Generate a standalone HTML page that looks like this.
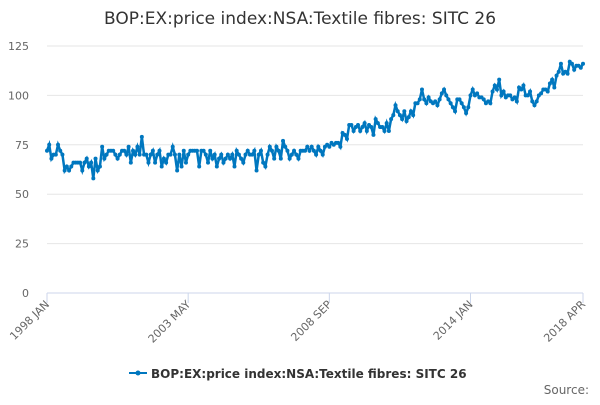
<!DOCTYPE html>
<html><head><meta charset="utf-8"><style>
body{margin:0;background:#fff;font-family:"Liberation Sans","DejaVu Sans",sans-serif;}
svg text{font-family:"DejaVu Sans","Liberation Sans",sans-serif;}
</style></head><body>
<svg id="c" width="600" height="400">
<text x="300" y="24" text-anchor="middle" font-size="17" fill="#333">BOP:EX:price index:NSA:Textile fibres: SITC 26</text>
<g id="grid"></g><g id="xax"></g><g id="ser"></g>
<g>
<line x1="129" y1="373" x2="147" y2="373" stroke="#0077bf" stroke-width="2"/>
<circle cx="138" cy="373" r="2.5" fill="#0077bf"/>
<text x="151" y="378" font-size="12" font-weight="bold" fill="#333">BOP:EX:price index:NSA:Textile fibres: SITC 26</text>
</g>
<text x="589" y="394" text-anchor="end" font-size="12" fill="#666">Source:</text>
</svg>
<script>
const yTicks=[0,25,50,75,100,125];
const xTickIdx=[0,64,128,192,243];
const xTickLabels=["1998 JAN","2003 MAY","2008 SEP","2014 JAN","2018 APR"];
const values=[72,75,68,70,70,75,72,70,62,64,62,64,
66,66,66,66,62,66,68,64,66,58,68,62,
64,74,68,70,72,72,72,70,68,70,72,72,
70,74,66,72,70,74,70,79,70,70,66,70,
72,66,70,72,64,68,66,70,70,74,70,62,
70,64,72,66,70,72,72,72,72,64,72,72,
70,66,72,68,70,64,68,70,66,68,70,68,
70,64,72,70,68,66,70,72,70,70,72,62,
70,72,66,64,70,74,72,68,74,72,68,77,
74,72,68,70,72,70,68,72,72,72,74,72,
74,72,70,74,72,70,74,75,74,76,75,76,
76,74,81,80,78,85,85,82,84,85,82,84,
86,82,85,84,80,88,86,84,84,82,86,82,
88,90,95,92,90,88,92,87,89,92,90,96,
96,98,103,98,96,99,97,96,97,95,98,101,
103,100,98,96,94,92,98,98,96,94,91,94,
100,103,100,101,99,99,98,96,97,96,102,105,
103,108,100,102,99,100,100,98,99,97,104,103,
105,100,100,102,97,95,97,100,101,103,103,102,
106,108,104,110,112,116,111,112,111,117,116,113,
115,115,114,116];
const NS="http://www.w3.org/2000/svg";
const X0=47,X1=583,Y0=293,Y1=46;
const xs=i=>X0+(X1-X0)*i/(values.length-1);
const ys=v=>Y0-(Y0-Y1)*v/125;
function mk(t,a,p){const e=document.createElementNS(NS,t);for(const k in a)e.setAttribute(k,a[k]);p.appendChild(e);return e;}
const g=document.getElementById('grid');
yTicks.forEach(v=>{
const l=mk('line',{x1:X0,x2:X1,y1:ys(v),y2:ys(v),stroke:v===0?'#ccd6eb':'#e6e6e6'},g);


const t=mk('text',{x:29,y:ys(v)+4,'text-anchor':'end','font-size':11,fill:'#666'},g);
t.textContent=v;


});
const xa=document.getElementById('xax');
xTickIdx.forEach((i,k)=>{
const x=xs(i);
const l=mk('line',{x1:x,x2:x,y1:Y0,y2:Y0+10,stroke:'#ccd6eb'},xa);


const t=mk('text',{x:x+3,y:Y0+12,'text-anchor':'end','font-size':11,fill:'#666',transform:`rotate(-45 ${x+3} ${Y0+12})`},xa);
t.textContent=xTickLabels[k];


});
const s=document.getElementById('ser');
const p=mk('polyline',{points:values.map((v,i)=>xs(i)+','+ys(v)).join(' '),fill:'none',stroke:'#0077bf','stroke-width':2.5},s);


values.forEach((v,i)=>{
const c=mk('circle',{cx:xs(i),cy:ys(v),r:2,fill:'#0077bf'},s);


});
</script>
</body></html>
